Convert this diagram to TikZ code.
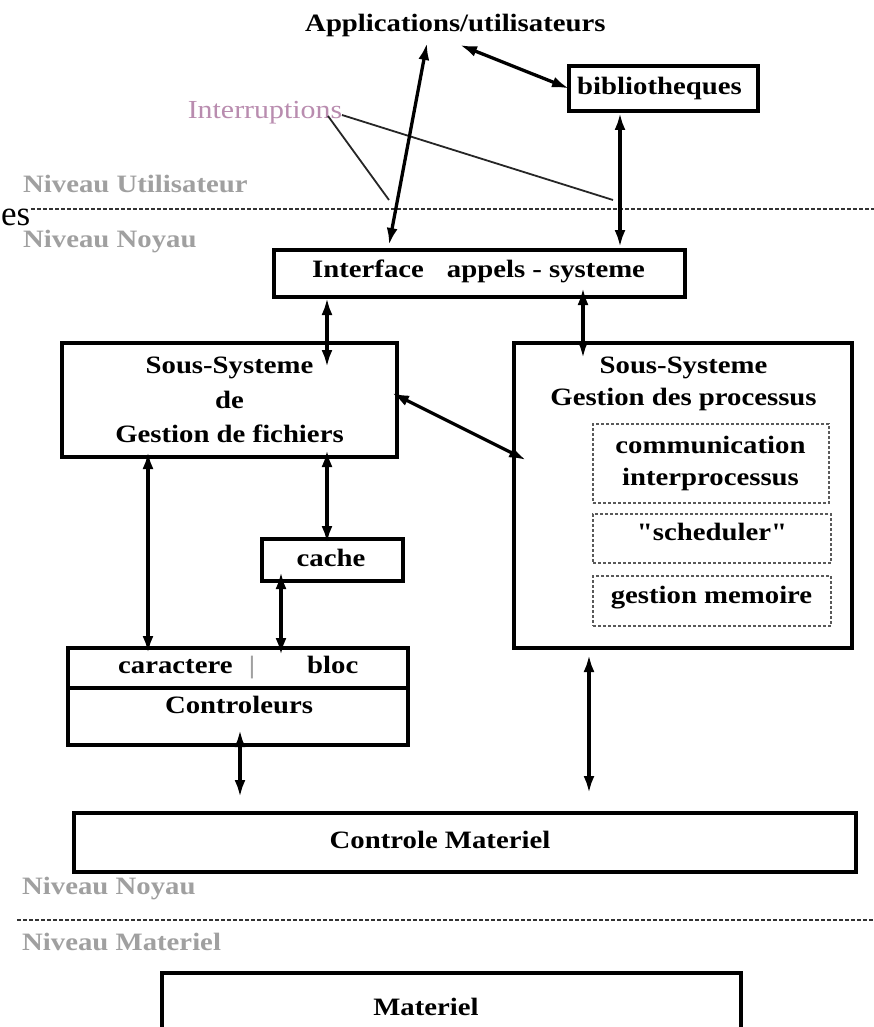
\documentclass[tikz,border=0pt]{standalone}
\usepackage{fontspec}
\setmainfont{Liberation Serif}[FakeStretch=1.15, Ligatures=TeXOff]
\newfontfamily\esfont{Liberation Serif}
\usetikzlibrary{arrows.meta,calc}
\definecolor{intcol}{RGB}{185,140,175}
\definecolor{lvlgray}{RGB}{160,160,160}
\begin{document}
\begin{tikzpicture}[x=1pt,y=-1pt,
  box/.style={draw, line width=3.2pt, inner sep=0pt, outer sep=0pt},
  dbox/.style={draw=black!65, line width=1.5pt, dash pattern=on 3pt off 2pt, inner sep=0pt, outer sep=0pt},
  txt/.style={inner sep=0pt, anchor=base, font=\bfseries\fontsize{25}{30}\selectfont},
  lvl/.style={inner sep=0pt, anchor=base west, text=lvlgray, font=\bfseries\fontsize{25}{30}\selectfont},
  arr/.style={line width=3.3pt, {Latex[length=17pt,width=11pt]}-{Latex[length=17pt,width=11pt]}},
  sepline/.style={line width=1.6pt, black!80, dash pattern=on 4pt off 2pt},
  thinline/.style={line width=1.8pt, black!85}]
\useasboundingbox (0,0) rectangle (874,1027);
\clip (0,0) rectangle (874,1027);
\fill[white] (0,0) rectangle (874,1027);

% level separators
\coordinate (s1a) at (31,209);
\coordinate (s1b) at (874,209);
\coordinate (s2a) at (17,920);
\coordinate (s2b) at (874,920);
\draw[sepline] (s1a) -- (s1b);
\draw[sepline] (s2a) -- (s2b);

% stray text
\node[inner sep=0pt, anchor=base west, font=\esfont\fontsize{35}{42}\selectfont] (es) at (1,225) {es};

% level labels
\node[lvl] (nu) at (23,193) {Niveau Utilisateur};
\node[lvl] (nn1) at (23,247) {Niveau Noyau};
\node[lvl] (nn2) at (22,894) {Niveau Noyau};
\node[lvl] (nm) at (22,950) {Niveau Materiel};

% boxes
\node[box, minimum width=189pt, minimum height=45pt] (bib) at (663.5,88.5) {};
\node[box, minimum width=411pt, minimum height=47pt] (iface) at (479.5,273.5) {};
\node[box, minimum width=335pt, minimum height=114pt] (fich) at (229.5,400) {};
\node[box, minimum width=338pt, minimum height=305pt] (proc) at (683,495.5) {};
\node[dbox, minimum width=236pt, minimum height=79pt] (d1) at (711,463.5) {};
\node[dbox, minimum width=238pt, minimum height=49pt] (d2) at (712,538.5) {};
\node[dbox, minimum width=238pt, minimum height=50pt] (d3) at (712,601) {};
\node[box, minimum width=141pt, minimum height=42pt] (cache) at (332.5,560) {};
\node[box, minimum width=340pt, minimum height=40pt] (ctrltop) at (238,668) {};
\node[box, minimum width=340pt, minimum height=57pt] (ctrl) at (238,716.5) {};
\node[box, minimum width=782pt, minimum height=59pt] (cm) at (465,842.5) {};
\node[box, minimum width=579pt, minimum height=100pt] (mat) at (451.5,1023) {};

% texts
\node[txt] (apps) at (455.4,32) {Applications/utilisateurs};
\node[txt] (bibt) at (659.5,95) {bibliotheques};
\node[inner sep=0pt, anchor=base, text=intcol, font=\fontsize{26}{30}\selectfont] (intr) at (265,119) {Interruptions};
\node[txt, anchor=base west] (ifacet) at (312,277) {Interface\hspace{23pt}appels - systeme};
\node[txt] (f1) at (229.5,373) {Sous-Systeme};
\node[txt] (f2) at (229.5,408) {de};
\node[txt] (f3) at (229.5,442) {Gestion de fichiers};
\node[txt] (p1) at (683.5,373) {Sous-Systeme};
\node[txt] (p2) at (683.5,405) {Gestion des processus};
\node[txt] (d1a) at (710.5,453) {communication};
\node[txt] (d1b) at (710.5,485) {interprocessus};
\node[txt] (d2t) at (712,540) {"scheduler"};
\node[txt] (d3t) at (711.5,603) {gestion memoire};
\node[txt] (cachet) at (331,566) {cache};
\node[txt, anchor=base west] (car) at (118,673) {caractere};
\node[txt, text=lvlgray] (bar) at (252,673) {|};
\node[txt, anchor=base west] (bloc) at (307,673) {bloc};
\node[txt] (ctrlt) at (239,713) {Controleurs};
\node[txt] (cmt) at (440,848) {Controle Materiel};
\node[txt] (matt) at (426,1015) {Materiel};

% interruption lines
\coordinate (i1) at (389,200);
\coordinate (i2) at (613,200);
\draw[thinline] ($(intr.base)+(63,-3)$) -- (i1);
\draw[thinline] ($(intr.base)+(77,-4)$) -- (i2);

% connectors
\draw[arr] ($(apps.base)+(-28.4,11)$) -- ($(iface.north west)+(115,-5)$);
\draw[arr] ($(apps.base)+(4.6,13)$) -- (bib.west);
\draw[arr] ($(bib.south)+(-43.5,2)$) -- ($(iface.north)+(140.5,-3)$);
\draw[arr] ($(iface.south)+(-152.5,1)$) -- ($(fich.north)+(97.5,24)$);
\draw[arr] ($(iface.south)+(103.5,-9)$) -- ($(proc.north)+(-100,15)$);
\draw[arr] ($(fich.north east)+(-5,50)$) -- ($(proc.west)+(12,-35.5)$);
\draw[arr] ($(fich.south west)+(86,-5)$) -- ($(ctrltop.north west)+(80,5)$);
\draw[arr] ($(fich.south)+(97.5,-7)$) -- ($(cache.north)+(-5.5,4)$);
\draw[arr] ($(cache.south)+(-51.5,-9)$) -- ($(ctrltop.north west)+(213,7)$);
\draw[arr] ($(ctrl.south)+(2,-15)$) -- ($(cm.north west)+(166,-16)$);
\draw[arr] ($(proc.south)+(-94,7)$) -- ($(cm.north)+(124,-20)$);
\end{tikzpicture}
\end{document}
